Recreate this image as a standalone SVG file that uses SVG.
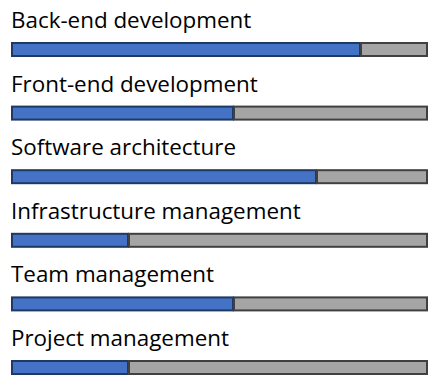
<svg xmlns="http://www.w3.org/2000/svg" width="432" height="375" viewBox="0 0 432 375">
<style>
text{font-family:"Open Sans","Noto Sans","DejaVu Sans",sans-serif;font-size:22.4px;fill:#000}
.b{fill:#4472C4;stroke:#1F3864;stroke-width:2}
.g{fill:#A5A5A5;stroke:#404040;stroke-width:2}
</style>
<rect width="432" height="375" fill="#fff"/>
<g id="row1"><text x="11" y="28">Back-end development</text><rect class="b" x="12" y="43" width="348" height="13"/><rect class="g" x="361" y="43" width="66" height="13"/></g>
<g id="row2"><text x="11" y="91.6">Front-end development</text><rect class="b" x="12" y="106.6" width="221" height="13"/><rect class="g" x="234" y="106.6" width="193" height="13"/></g>
<g id="row3"><text x="11" y="155.2">Software architecture</text><rect class="b" x="12" y="170.2" width="304" height="13"/><rect class="g" x="317" y="170.2" width="110" height="13"/></g>
<g id="row4"><text x="11" y="218.8">Infrastructure management</text><rect class="b" x="12" y="233.8" width="116" height="13"/><rect class="g" x="129" y="233.8" width="298" height="13"/></g>
<g id="row5"><text x="11" y="282.4">Team management</text><rect class="b" x="12" y="297.4" width="221" height="13"/><rect class="g" x="234" y="297.4" width="193" height="13"/></g>
<g id="row6"><text x="11" y="346">Project management</text><rect class="b" x="12" y="361" width="116" height="13"/><rect class="g" x="129" y="361" width="298" height="13"/></g>
</svg>
